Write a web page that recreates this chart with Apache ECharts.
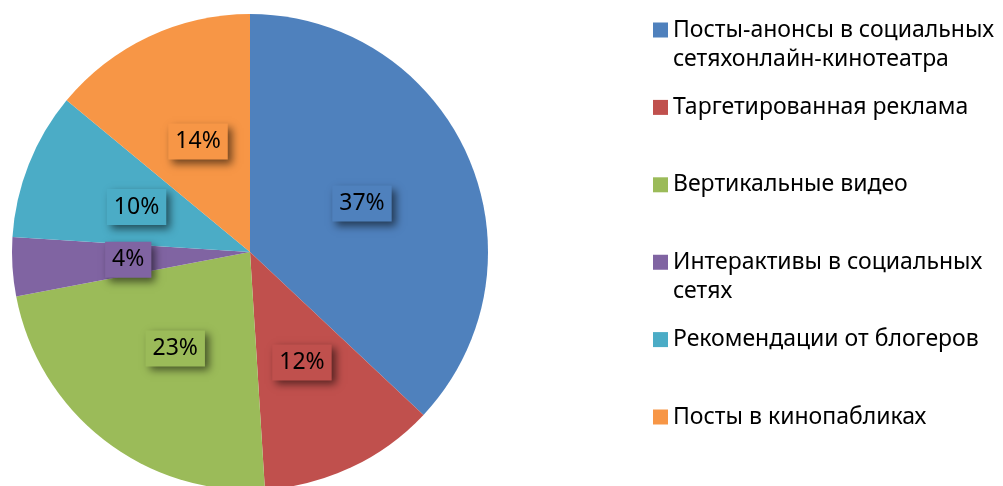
<!DOCTYPE html>
<html>
<head>
<meta charset="utf-8">
<script src="https://cdn.jsdelivr.net/npm/echarts@6/dist/echarts.min.js"></script>
<style>
  html, body { margin: 0; padding: 0; background: #fff; }
  #chart { width: 1003px; height: 486px; }
</style>
</head>
<body>
<div id="chart"></div>
<script>
// категории и доли (%)
const categories = [
  "Посты-анонсы в социальных сетяхонлайн-кинотеатра",
  "Таргетированная реклама",
  "Вертикальные видео",
  "Интерактивы в социальных сетях",
  "Рекомендации от блогеров",
  "Посты в кинопабликах",
];
const values = [37, 12, 23, 4, 10, 14];
// переносы строк в легенде, как в оригинале
const legendLines = [
  ["Посты-анонсы в социальных", "сетяхонлайн-кинотеатра"],
  ["Таргетированная реклама"],
  ["Вертикальные видео"],
  ["Интерактивы в социальных", "сетях"],
  ["Рекомендации от блогеров"],
  ["Посты в кинопабликах"],
];
const colors = ["#4F81BD", "#C0504D", "#9BBB59", "#8064A2", "#4BACC6", "#F79646"];

const FONT = "'Noto Sans', sans-serif";
const LINE_H = 29;

const chart = echarts.init(document.getElementById("chart"));

// отдельная легенда на каждый пункт — чтобы повторить неровные отступы
const legends = categories.map((name, i) => {
  const lines = legendLines[i];
  const h = lines.length * LINE_H;
  // квадрат на уровне первой строки
  const icon = lines.length > 1
    ? `path://M0,0 h0.01 M0,7 h15 v15 h-15 Z M0,${h} h0.01`
    : "rect";
  return {
    data: [name],
    left: 653,
    top: 15.5 + 77.4 * i,
    padding: 0,
    orient: "vertical",
    selectedMode: false,
    icon,
    itemWidth: 15,
    itemHeight: lines.length > 1 ? h : 15,
    itemGap: 0,
    itemStyle: { borderWidth: 0 },
    formatter: () => lines.join("\n"),
    textStyle: {
      fontFamily: FONT,
      fontSize: 23,
      color: "#000",
      lineHeight: LINE_H,
    },
  };
});

const option = {
  animation: false,
  color: colors,
  legend: legends,
  series: [
    {
      type: "pie",
      center: [250, 252],
      radius: 238,
      startAngle: 90,
      clockwise: true,
      avoidLabelOverlap: false,
      itemStyle: { borderWidth: 0 },
      label: {
        show: true,
        position: "inside",
        formatter: (p) => p.value + "%",
        fontFamily: FONT,
        fontSize: 23,
        color: "#000",
        backgroundColor: "inherit",
        padding: [7, 7, 6, 7],
        shadowColor: "rgba(0,0,0,0.55)",
        shadowBlur: 8,
        shadowOffsetX: 4,
        shadowOffsetY: 4,
      },
      labelLine: { show: false },
      emphasis: { disabled: true },
      data: categories.map((name, i) => ({ name, value: values[i] })),
    },
  ],
};

chart.setOption(option);
</script>
</body>
</html>
